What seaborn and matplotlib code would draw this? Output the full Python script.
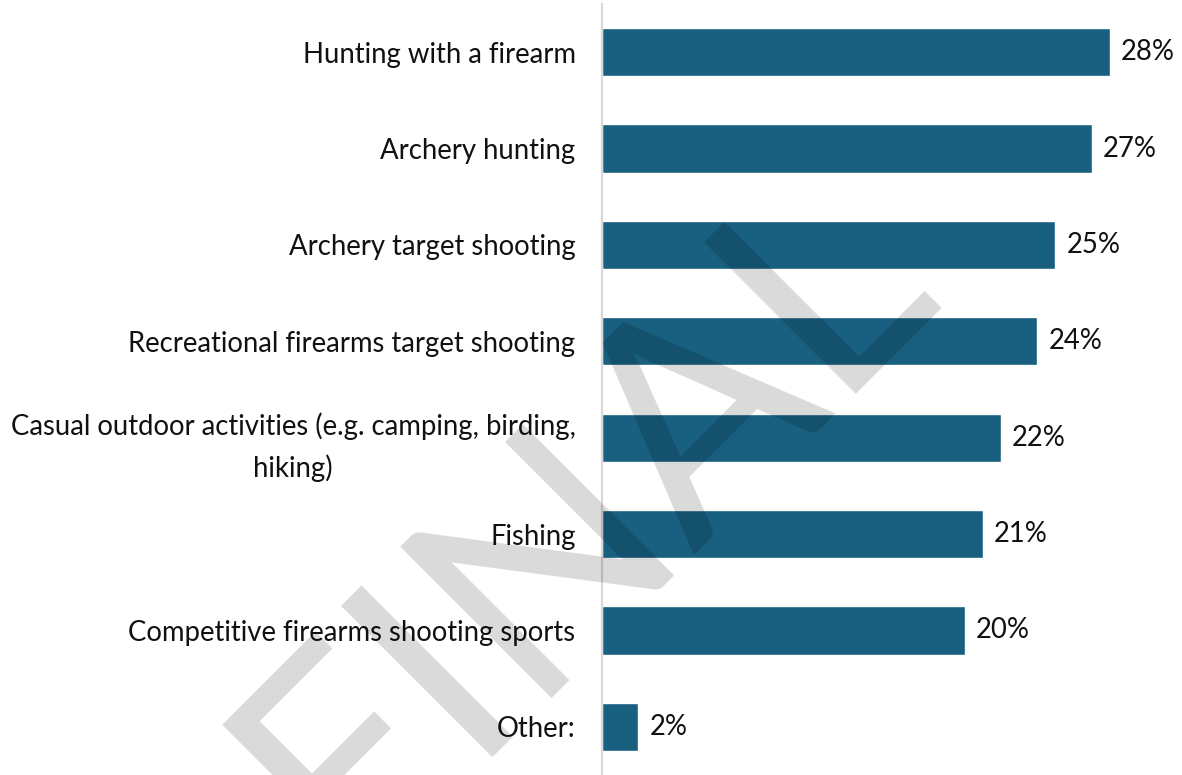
import matplotlib
matplotlib.use("Agg")
import matplotlib.pyplot as plt
import seaborn as sns
import pandas as pd

categories = [
    "Hunting with a firearm",
    "Archery hunting",
    "Archery target shooting",
    "Recreational firearms target shooting",
    "Casual outdoor activities (e.g. camping, birding,\nhiking)",
    "Fishing",
    "Competitive firearms shooting sports",
    "Other:",
]
values = [28, 27, 25, 24, 22, 21, 20, 2]

sns.set_theme(style="white")
plt.rcParams["font.family"] = ["Lato", "DejaVu Sans"]

df = pd.DataFrame({"activity": categories, "pct": values})

W, H = 1182, 775
fig = plt.figure(figsize=(W / 100, H / 100), dpi=100)
ax = fig.add_axes([602 / W, 0.0, 1 - 602 / W - 36 / W, 1 - 4 / H])

sns.barplot(data=df, y="activity", x="pct", orient="h", color="#185f80",
            saturation=1, width=0.5, ax=ax)

ax.set_xlim(0, 30)
ax.set_ylim(len(categories) - 0.5, -0.5)
ax.set_xlabel("")
ax.set_ylabel("")
ax.set_xticks([])

for s in ["top", "right", "bottom"]:
    ax.spines[s].set_visible(False)
ax.spines["left"].set_color("#d9d9d9")
ax.spines["left"].set_linewidth(1.6)

ax.tick_params(axis="y", length=0, pad=19, labelsize=19.8, labelcolor="#111111")
for lbl in ax.get_yticklabels():
    lbl.set_multialignment("center")
    lbl.set_linespacing(1.65)

for i, v in enumerate(values):
    ax.annotate(f"{v}%", xy=(v, i), xytext=(8, 0), textcoords="offset points",
                ha="left", va="center", fontsize=19.8, color="#111111")

# draft watermark across the chart
fig.text(347 / W, 1 - 876 / H, "FINAL", rotation=45, rotation_mode="anchor",
         ha="left", va="baseline", fontsize=215,
         color="black", alpha=0.15, zorder=10)

fig.savefig("out.png", dpi=100)
